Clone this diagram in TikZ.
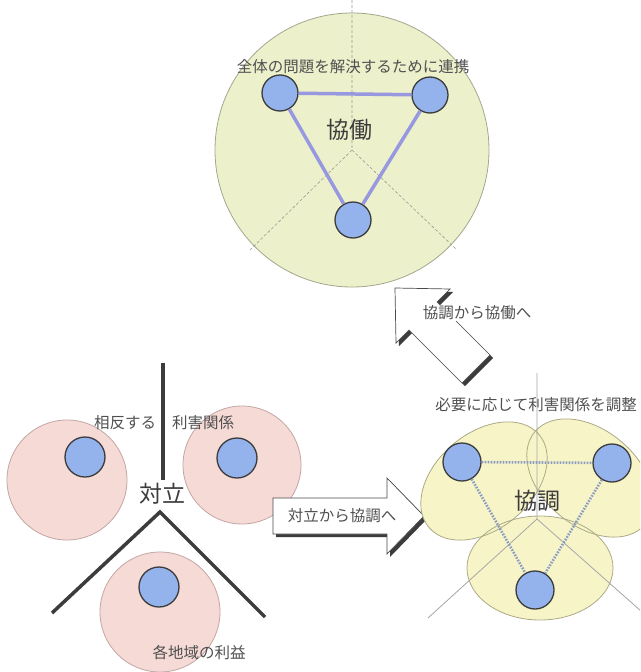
\documentclass[tikz,border=0pt]{standalone}
\usepackage{fontspec}
\newfontfamily\jp{Noto Sans CJK JP}
\definecolor{topfill}{HTML}{EDF1CB}
\definecolor{topedge}{HTML}{A4A68E}
\definecolor{pinkfill}{HTML}{F6DAD6}
\definecolor{pinkedge}{HTML}{C4A6A4}
\definecolor{yelfill}{HTML}{F7F5C8}
\definecolor{yeledge}{HTML}{ACAA86}
\definecolor{bluefill}{HTML}{94B3EC}
\definecolor{triline}{HTML}{9898E0}
\definecolor{dotline}{HTML}{8A9CC0}
\definecolor{txt}{HTML}{505050}
\definecolor{darkline}{HTML}{3C3C3C}
\tikzset{
  bnode/.style={circle, draw=darkline, line width=1.3pt, fill=bluefill, inner sep=0pt, minimum size=#1},
  bnode/.default=38pt,
  lbl/.style={font=\jp\fontsize{15.5}{16}\selectfont, text=txt, inner sep=0pt},
  big/.style={font=\jp\fontsize{23}{24}\selectfont, text=darkline, inner sep=0pt},
  dashline/.style={draw=gray!80, line width=0.6pt, dash pattern=on 3pt off 2pt},
  thinline/.style={draw=gray!70, line width=0.8pt},
  heavy/.style={draw=darkline, line width=3.5pt},
  tri/.style={draw=triline, line width=3.5pt},
  dots/.style={draw=dotline, line width=2.6pt, dash pattern=on 1.6pt off 1.4pt},
  arrowbody/.style={fill=white, draw=gray!60!black, line width=0.7pt},
  arrowshadow/.style={fill=darkline},
}
\begin{document}
\begin{tikzpicture}[x=1pt,y=-1pt]
\clip (0,0) rectangle (640,672);
\fill[white] (0,0) rectangle (640,672);

% ---------- top: 協働 ----------
\filldraw[fill=topfill, draw=topedge, line width=0.8pt] (352,150) circle [radius=137pt];
\coordinate (ctr) at (352,150);
\coordinate (dtop) at (352,0);
\coordinate (dl) at (250,250);
\coordinate (dr) at (456,249);
\draw[dashline] (dtop) -- (ctr) -- (dl);
\draw[dashline] (ctr) -- (dr);
\node[lbl] (ttext) at (353,67) {全体の問題を解決するために連携};
\node[big] (kyodo) at (349,130) {協働};
\node[bnode=36pt] (t1) at (280,93) {};
\node[bnode=36pt] (t2) at (430,95) {};
\node[bnode=36pt] (t3) at (353,220) {};
\draw[tri] (t1) -- (t2);
\draw[tri] (t2) -- (t3);
\draw[tri] (t3) -- (t1);

% ---------- arrow up-left ----------
\fill[arrowshadow, shift={(3,3)}] (395,288) -- (450,289) -- (437,302) -- (490,355) -- (462,383) -- (409,330) -- (396,343) -- cycle;
\filldraw[arrowbody] (395,288) -- (450,289) -- (437,302) -- (490,355) -- (462,383) -- (409,330) -- (396,343) -- cycle;
\node[lbl, fill=white, inner sep=1pt] (a1text) at (477,313) {協調から協働へ};

% ---------- bottom-left: 対立 ----------
\filldraw[fill=pinkfill, draw=pinkedge, line width=0.8pt] (67,480) circle [radius=60pt];
\filldraw[fill=pinkfill, draw=pinkedge, line width=0.8pt] (242,465) circle [radius=59pt];
\filldraw[fill=pinkfill, draw=pinkedge, line width=0.8pt] (160,612) circle [radius=60pt];
\coordinate (vtop) at (163,363);
\coordinate (vbot) at (163,480);
\coordinate (vl) at (52,613);
\coordinate (vapex) at (160,512);
\coordinate (vr) at (265,617);
\draw[heavy] (vtop) -- (vbot);
\draw[heavy] (vl) -- (vapex) -- (vr);
\node[bnode=40pt] (b1) at (85,457) {};
\node[bnode=40pt] (b2) at (237,458) {};
\node[bnode=40pt] (b3) at (159,587) {};
\node[lbl] (soh) at (125,423) {相反する};
\node[lbl] (rig) at (203,423) {利害関係};
\node[big] (tairitsu) at (162,494) {対立};
\node[lbl] (kaku) at (199,653) {各地域の利益};

% ---------- arrow right ----------
\fill[arrowshadow, shift={(3,3)}] (273,498) -- (387,498) -- (387,478) -- (424,516) -- (387,554) -- (387,534) -- (273,534) -- cycle;
\filldraw[arrowbody] (273,498) -- (387,498) -- (387,478) -- (424,516) -- (387,554) -- (387,534) -- (273,534) -- cycle;
\node[lbl] (a2text) at (342,516) {対立から協調へ};

% ---------- bottom-right: 協調 ----------
\fill[yelfill, rotate around={40:(484,481)}] (484,481) ellipse [x radius=72pt, y radius=48pt];
\fill[yelfill, rotate around={-40:(590,478)}] (590,478) ellipse [x radius=72pt, y radius=48pt];
\fill[yelfill] (540,568) ellipse [x radius=73pt, y radius=52pt];
\draw[yeledge, line width=0.8pt, rotate around={40:(484,481)}] (484,481) ellipse [x radius=72pt, y radius=48pt];
\draw[yeledge, line width=0.8pt, rotate around={-40:(590,478)}] (590,478) ellipse [x radius=72pt, y radius=48pt];
\draw[yeledge, line width=0.8pt] (540,568) ellipse [x radius=73pt, y radius=52pt];
\coordinate (cc) at (537,519);
\coordinate (ctop) at (537,373);
\coordinate (cl) at (428,618);
\coordinate (cr) at (650,619);
\draw[thinline] (ctop) -- (cc) -- (cl);
\draw[thinline] (cc) -- (cr);
\node[bnode=38pt] (r1) at (462,462) {};
\node[bnode=38pt] (r2) at (612,463) {};
\node[bnode=38pt] (r3) at (535,590) {};
\draw[dots] (r1) -- (r2);
\draw[dots] (r1) -- (r3);
\draw[dots] (r2) -- (r3);
\node[lbl] (hitsuyo) at (536,405) {必要に応じて利害関係を調整};
\node[big] (kyocho) at (537,501) {協調};
\end{tikzpicture}
\end{document}
